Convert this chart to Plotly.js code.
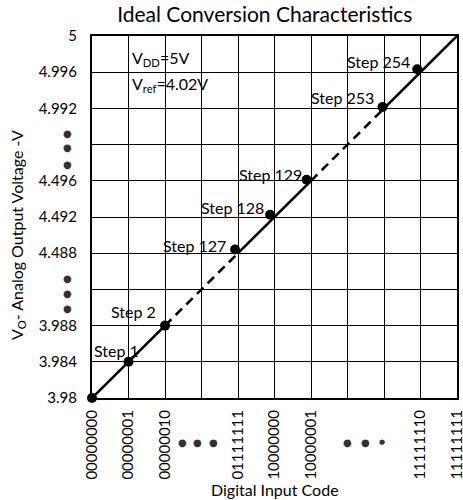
<!DOCTYPE html>
<html>
<head>
<meta charset="utf-8">
<script src="https://cdn.plot.ly/plotly-3.0.1.min.js"></script>
<style>html,body{margin:0;padding:0;background:#fff;}#chart{width:463px;height:500px;}</style>
</head>
<body>
<div id="chart"></div>
<script>
// ---- data ----
const xTickText = ['00000000','00000001','00000010','','01111111','10000000','10000001','','','11111110','11111111'];
const yTickText = ['3.98','3.984','3.988','','4.488','4.492','4.496','','4.992','4.996','5'];
const stepLabels = ['', 'Step 1', 'Step 2', 'Step 127', 'Step 128', 'Step 129', 'Step 253', 'Step 254'];
const stepX = [0, 1, 2, 3.92, 4.88, 5.88, 7.96, 8.91];
const stepY = [0, 1, 2, 4.1, 5.06, 6.03, 8.04, 9.08];
const lineX = [0, 2, 4, 6, 8, 10];
const lineY = [0, 2, 4, 6, 8, 10];
const vddText = 'V<sub>DD</sub>=5V';
const vrefText = 'V<sub>ref</sub>=4.02V';

// ---- style ----
const FONT = 'Lato, "Open Sans", sans-serif';
const labelShift = [[0,0],[12,11],[-7,14],[-7,4],[-4,7],[-3,5],[-7,9],[-5,8]];

const traces = [];
for (let i = 0; i < lineX.length - 1; i++) {
  traces.push({
    x: [lineX[i], lineX[i+1]], y: [lineY[i], lineY[i+1]],
    mode: 'lines', type: 'scatter', hoverinfo: 'skip', showlegend: false,
    cliponaxis: false,
    line: {color: '#000', width: 2.6, dash: (i % 2 === 1) ? '9px,6px' : 'solid'}
  });
}
traces.push({
  x: stepX, y: stepY, mode: 'markers', type: 'scatter', showlegend: false,
  cliponaxis: false,
  marker: {color: '#000', size: 10}
});

const annotations = [];
stepLabels.forEach((t, i) => {
  if (!t) return;
  annotations.push({
    x: stepX[i], y: stepY[i], xref: 'x', yref: 'y', text: t, showarrow: false,
    xanchor: 'right', yanchor: 'middle', xshift: labelShift[i][0], yshift: labelShift[i][1],
    font: {family: FONT, size: 16, color: '#000'}
  });
});
annotations.push({x: 0, y: 1, xref: 'paper', yref: 'paper', xshift: 38, yshift: -22,
  text: vddText, showarrow: false, xanchor: 'left', yanchor: 'middle',
  font: {family: FONT, size: 16, color: '#000'}});
annotations.push({x: 0, y: 1, xref: 'paper', yref: 'paper', xshift: 38, yshift: -48,
  text: vrefText, showarrow: false, xanchor: 'left', yanchor: 'middle',
  font: {family: FONT, size: 16, color: '#000'}});
// axis titles
annotations.push({x: 0, y: 0.45, xref: 'paper', yref: 'paper', xshift: -75,
  text: 'V<sub>O</sub>- Analog Output Voltage -V', textangle: -90, showarrow: false,
  xanchor: 'center', yanchor: 'middle', font: {family: FONT, size: 16, color: '#000'}});
annotations.push({x: 0.5, y: 0, xref: 'paper', yref: 'paper', yshift: -91,
  text: 'Digital Input Code', showarrow: false,
  xanchor: 'center', yanchor: 'middle', font: {family: FONT, size: 16, color: '#000'}});
// ellipsis dots
[[2.47,10],[2.88,10],[3.34,10],[7.01,10],[7.48,10],[7.95,7]].forEach(d => {
  annotations.push({x: d[0], y: 0, xref: 'x', yref: 'paper', yshift: -44, text: '●',
    showarrow: false, xanchor: 'center', yanchor: 'middle',
    font: {family: 'DejaVu Sans', size: d[1], color: '#333'}});
});
[7.32, 6.91, 6.44, 3.31, 2.90, 2.46].forEach(v => {
  annotations.push({x: 0, y: v, xref: 'paper', yref: 'y', xshift: -25, text: '●',
    showarrow: false, xanchor: 'center', yanchor: 'middle',
    font: {family: 'DejaVu Sans', size: 10, color: '#333'}});
});

const ticks11 = [0,1,2,3,4,5,6,7,8,9,10];
const layout = {
  width: 463, height: 500,
  margin: {l: 92, r: 6, t: 36, b: 102},
  paper_bgcolor: '#fff', plot_bgcolor: '#fff',
  title: {text: 'Ideal Conversion Characteristics', x: 0.572, xref: 'container', xanchor: 'center',
    y: 0.97, yref: 'container', yanchor: 'middle', font: {family: FONT, size: 21, color: '#000'}},
  xaxis: {range: [0, 10], tickvals: ticks11, ticktext: xTickText, tickangle: -90,
    showgrid: true, gridcolor: '#000', gridwidth: 1, zeroline: false,
    showline: true, linecolor: '#000', linewidth: 2, mirror: true, ticks: '',
    ticklabeloverflow: 'allow', automargin: false,
    ticklabelstandoff: 4, tickfont: {family: FONT, size: 15, color: '#000'}, fixedrange: true},
  yaxis: {range: [0, 10], tickvals: ticks11, ticktext: yTickText,
    showgrid: true, gridcolor: '#000', gridwidth: 1, zeroline: false,
    showline: true, linecolor: '#000', linewidth: 2, mirror: true, ticks: '',
    ticklabeloverflow: 'allow', automargin: false,
    ticklabelstandoff: 10, tickfont: {family: FONT, size: 15, color: '#000'}, fixedrange: true},
  annotations: annotations,
  showlegend: false
};
Plotly.newPlot('chart', traces, layout, {staticPlot: true, displayModeBar: false});
</script>
</body>
</html>
